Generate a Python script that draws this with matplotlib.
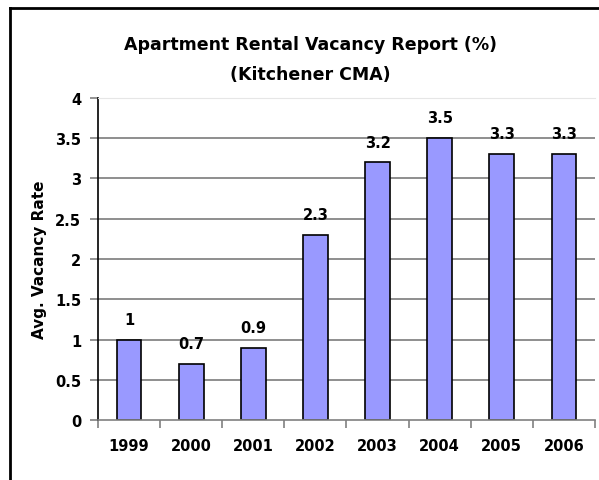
import numpy as np
import matplotlib.pyplot as plt
from matplotlib.lines import Line2D

plt.rcParams['font.family'] = ['DejaVu Sans']
plt.rcParams['font.weight'] = 'bold'

years = ['1999', '2000', '2001', '2002', '2003', '2004', '2005', '2006']
rates = [1, 0.7, 0.9, 2.3, 3.2, 3.5, 3.3, 3.3]
labels = ['1', '0.7', '0.9', '2.3', '3.2', '3.5', '3.3', '3.3']
yticks = [0, 0.5, 1, 1.5, 2, 2.5, 3, 3.5, 4]
ytick_labels = ['0', '0.5', '1', '1.5', '2', '2.5', '3', '3.5', '4']

fig = plt.figure(figsize=(5.99, 4.81), dpi=100)
ax = fig.add_axes([0.1636, 0.1247, 0.8297, 0.6695])

x = np.arange(len(years))
# grid lines behind the bars
for v in yticks[1:-1]:
    ax.axhline(v, color='#707070', lw=1.1, zorder=0)
ax.bar(x, rates, width=0.4, color='#9999FF', edgecolor='black', lw=1.2, zorder=2)
for xi, v, s in zip(x, rates, labels):
    ax.text(xi, v + 0.16, s, ha='center', va='bottom', fontsize=10.5, fontweight='bold')

ax.set_xlim(-0.5, len(years) - 0.5)
ax.set_ylim(0, 4)
ax.set_yticks(yticks)
ax.set_yticklabels(ytick_labels, fontsize=10.5, fontweight='bold')
ax.set_xticks(x)
ax.set_xticklabels(years, fontsize=10.5, fontweight='bold')
ax.tick_params(axis='x', length=0, pad=13)
ax.set_xticks(np.arange(-0.5, len(years)), minor=True)
ax.tick_params(axis='x', which='minor', length=6, color='#808080', width=1.2)
ax.tick_params(axis='y', length=6, width=1.2, color='#808080', pad=6)

ax.spines['right'].set_visible(False)
ax.spines['top'].set_color('#e6e6e6')
ax.spines['left'].set_color('black')
ax.spines['left'].set_linewidth(1.2)
ax.spines['bottom'].set_color('#808080')
ax.spines['bottom'].set_linewidth(1.2)

ax.set_ylabel('Avg. Vacancy Rate', fontsize=11, fontweight='bold', labelpad=6)

fig.text(0.518, 0.906, 'Apartment Rental Vacancy Report (%)', ha='center', va='center',
         fontsize=12.5, fontweight='bold')
fig.text(0.518, 0.844, '(Kitchener CMA)', ha='center', va='center',
         fontsize=12.5, fontweight='bold')

# chart frame (left and top edges visible)
fig.add_artist(Line2D([9.5 / 599, 9.5 / 599], [0, 1 - 8.5 / 481], transform=fig.transFigure,
                      color='black', lw=2))
fig.add_artist(Line2D([9.5 / 599, 1], [1 - 8.5 / 481, 1 - 8.5 / 481], transform=fig.transFigure,
                      color='black', lw=2))

fig.savefig('out.png', dpi=100)
